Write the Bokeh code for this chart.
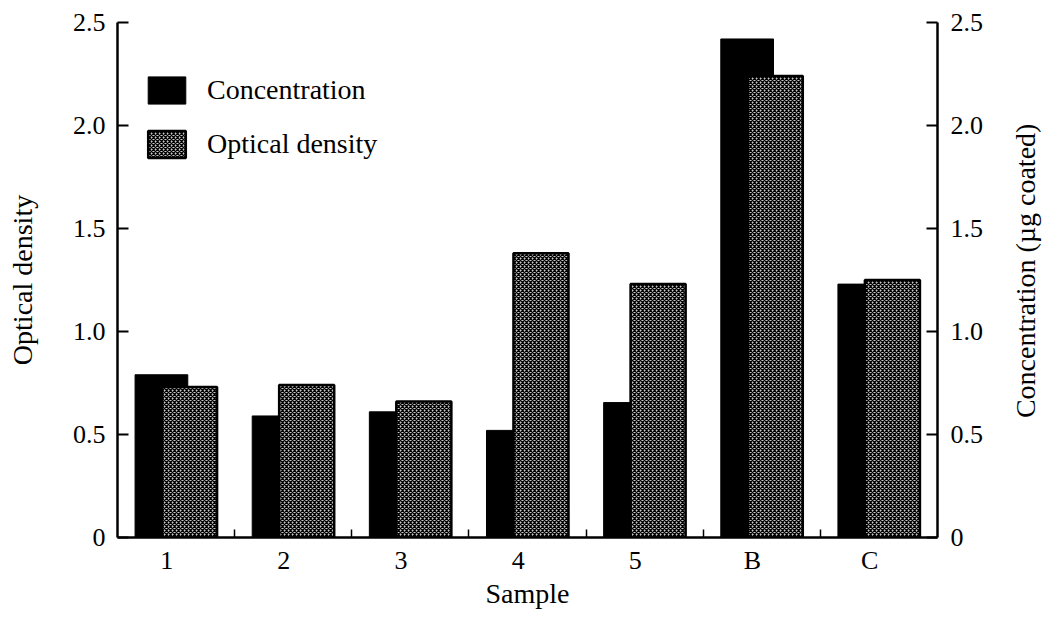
import math
from bokeh.plotting import figure
from bokeh.layouts import row
from bokeh.models import (Range1d, LinearAxis, FixedTicker, CustomJSTickFormatter,
                          Legend, LegendItem, ColumnDataSource, Label)
from bokeh.embed import file_html
from bokeh.resources import INLINE

categories = ["1", "2", "3", "4", "5", "B", "C"]
concentration = [0.79, 0.59, 0.61, 0.52, 0.655, 2.42, 1.23]
optical_density = [0.73, 0.74, 0.66, 1.38, 1.23, 2.24, 1.25]
y_ticks = [0, 0.5, 1.0, 1.5, 2.0, 2.5]
y_tick_labels = {0: "0", 0.5: "0.5", 1.0: "1.0", 1.5: "1.5", 2.0: "2.0", 2.5: "2.5"}

FONT = "Liberation Serif"
SIDE_W = 56
idx = list(range(len(categories)))
src = ColumnDataSource(dict(
    xc=[i + 0.375 for i in idx],
    xo=[i + 0.615 for i in idx],
    conc=concentration,
    od=optical_density,
))

p = figure(width=1043 - SIDE_W, height=618, x_range=Range1d(0, len(categories)),
           y_range=Range1d(0, 2.5), output_backend="svg", toolbar_location=None,
           min_border_left=117, min_border_right=106 - SIDE_W, min_border_top=22,
           min_border_bottom=81, x_axis_location=None, y_axis_location=None)
p.outline_line_color = None
p.xgrid.visible = False
p.ygrid.visible = False
p.background_fill_color = "white"
p.border_fill_color = "white"
p.extra_y_ranges = {"conc": Range1d(0, 2.5)}

r1 = p.vbar(x="xc", top="conc", width=0.45, source=src, y_range_name="conc",
            fill_color="black", line_color="black", line_width=1)
r2 = p.vbar(x="xo", top="od", width=0.47, source=src,
            fill_color="#c8c8c8", line_color="black", line_width=2.5,
            hatch_pattern="diagonal_cross", hatch_color="black",
            hatch_scale=4, hatch_weight=1.3)

def style_y(ax):
    ax.ticker = FixedTicker(ticks=y_ticks, minor_ticks=[])
    ax.major_label_overrides = y_tick_labels
    ax.major_tick_in = 11
    ax.major_tick_out = 0
    ax.major_tick_line_width = 2
    ax.minor_tick_line_color = None
    ax.axis_line_width = 2.5
    ax.major_label_text_font = FONT
    ax.major_label_text_font_size = "26px"
    ax.major_label_text_color = "black"
    ax.axis_label_text_font = FONT
    ax.axis_label_text_font_size = "28px"
    ax.axis_label_text_font_style = "normal"
    ax.axis_label_text_color = "black"

yl = LinearAxis(axis_label="Optical density")
style_y(yl)
yl.major_label_standoff = 12
yl.axis_label_standoff = 32
p.add_layout(yl, "left")

yr = LinearAxis(y_range_name="conc")
style_y(yr)
yr.major_label_standoff = 13
p.add_layout(yr, "right")

xa = LinearAxis(axis_label="Sample")
xa.ticker = FixedTicker(ticks=[i + 0.42 for i in idx],
                        minor_ticks=[i for i in range(1, len(categories))])
xa.formatter = CustomJSTickFormatter(args=dict(labels=categories),
                                     code="return labels[Math.floor(tick)];")
xa.major_tick_line_color = None
xa.major_tick_in = 0
xa.major_tick_out = 0
xa.minor_tick_in = 8
xa.minor_tick_out = 0
xa.minor_tick_line_width = 1.5
xa.axis_line_width = 2.5
xa.major_label_text_font = FONT
xa.major_label_text_font_size = "26px"
xa.major_label_text_color = "black"
xa.major_label_standoff = 8
xa.axis_label_text_font = FONT
xa.axis_label_text_font_size = "28px"
xa.axis_label_text_font_style = "normal"
xa.axis_label_text_color = "black"
xa.axis_label_standoff = 0
p.add_layout(xa, "below")

legend = Legend(items=[LegendItem(label="Concentration", renderers=[r1]),
                       LegendItem(label="Optical density", renderers=[r2])],
                location=(26, 376), orientation="vertical",
                glyph_width=47, glyph_height=34, label_standoff=17,
                spacing=20, padding=0, margin=0,
                border_line_color=None, background_fill_alpha=0,
                label_text_font=FONT, label_text_font_size="28px",
                label_text_color="black", label_height=34)
p.add_layout(legend, "center")

# narrow side strip holding the right-hand axis title (reads bottom-to-top)
side = figure(width=SIDE_W, height=618, x_range=Range1d(0, SIDE_W),
              y_range=Range1d(0, 618), output_backend="svg", toolbar_location=None,
              min_border=0, x_axis_location=None, y_axis_location=None)
side.outline_line_color = None
side.xgrid.visible = False
side.ygrid.visible = False
side.add_layout(Label(x=38, y=320, text="Concentration (µg coated)",
                      angle=math.pi / 2, text_align="center", text_baseline="middle",
                      text_font=FONT, text_font_size="28px", text_color="black"))

layout = row(p, side, spacing=0)
open("out.html", "w").write(file_html(layout, INLINE))
